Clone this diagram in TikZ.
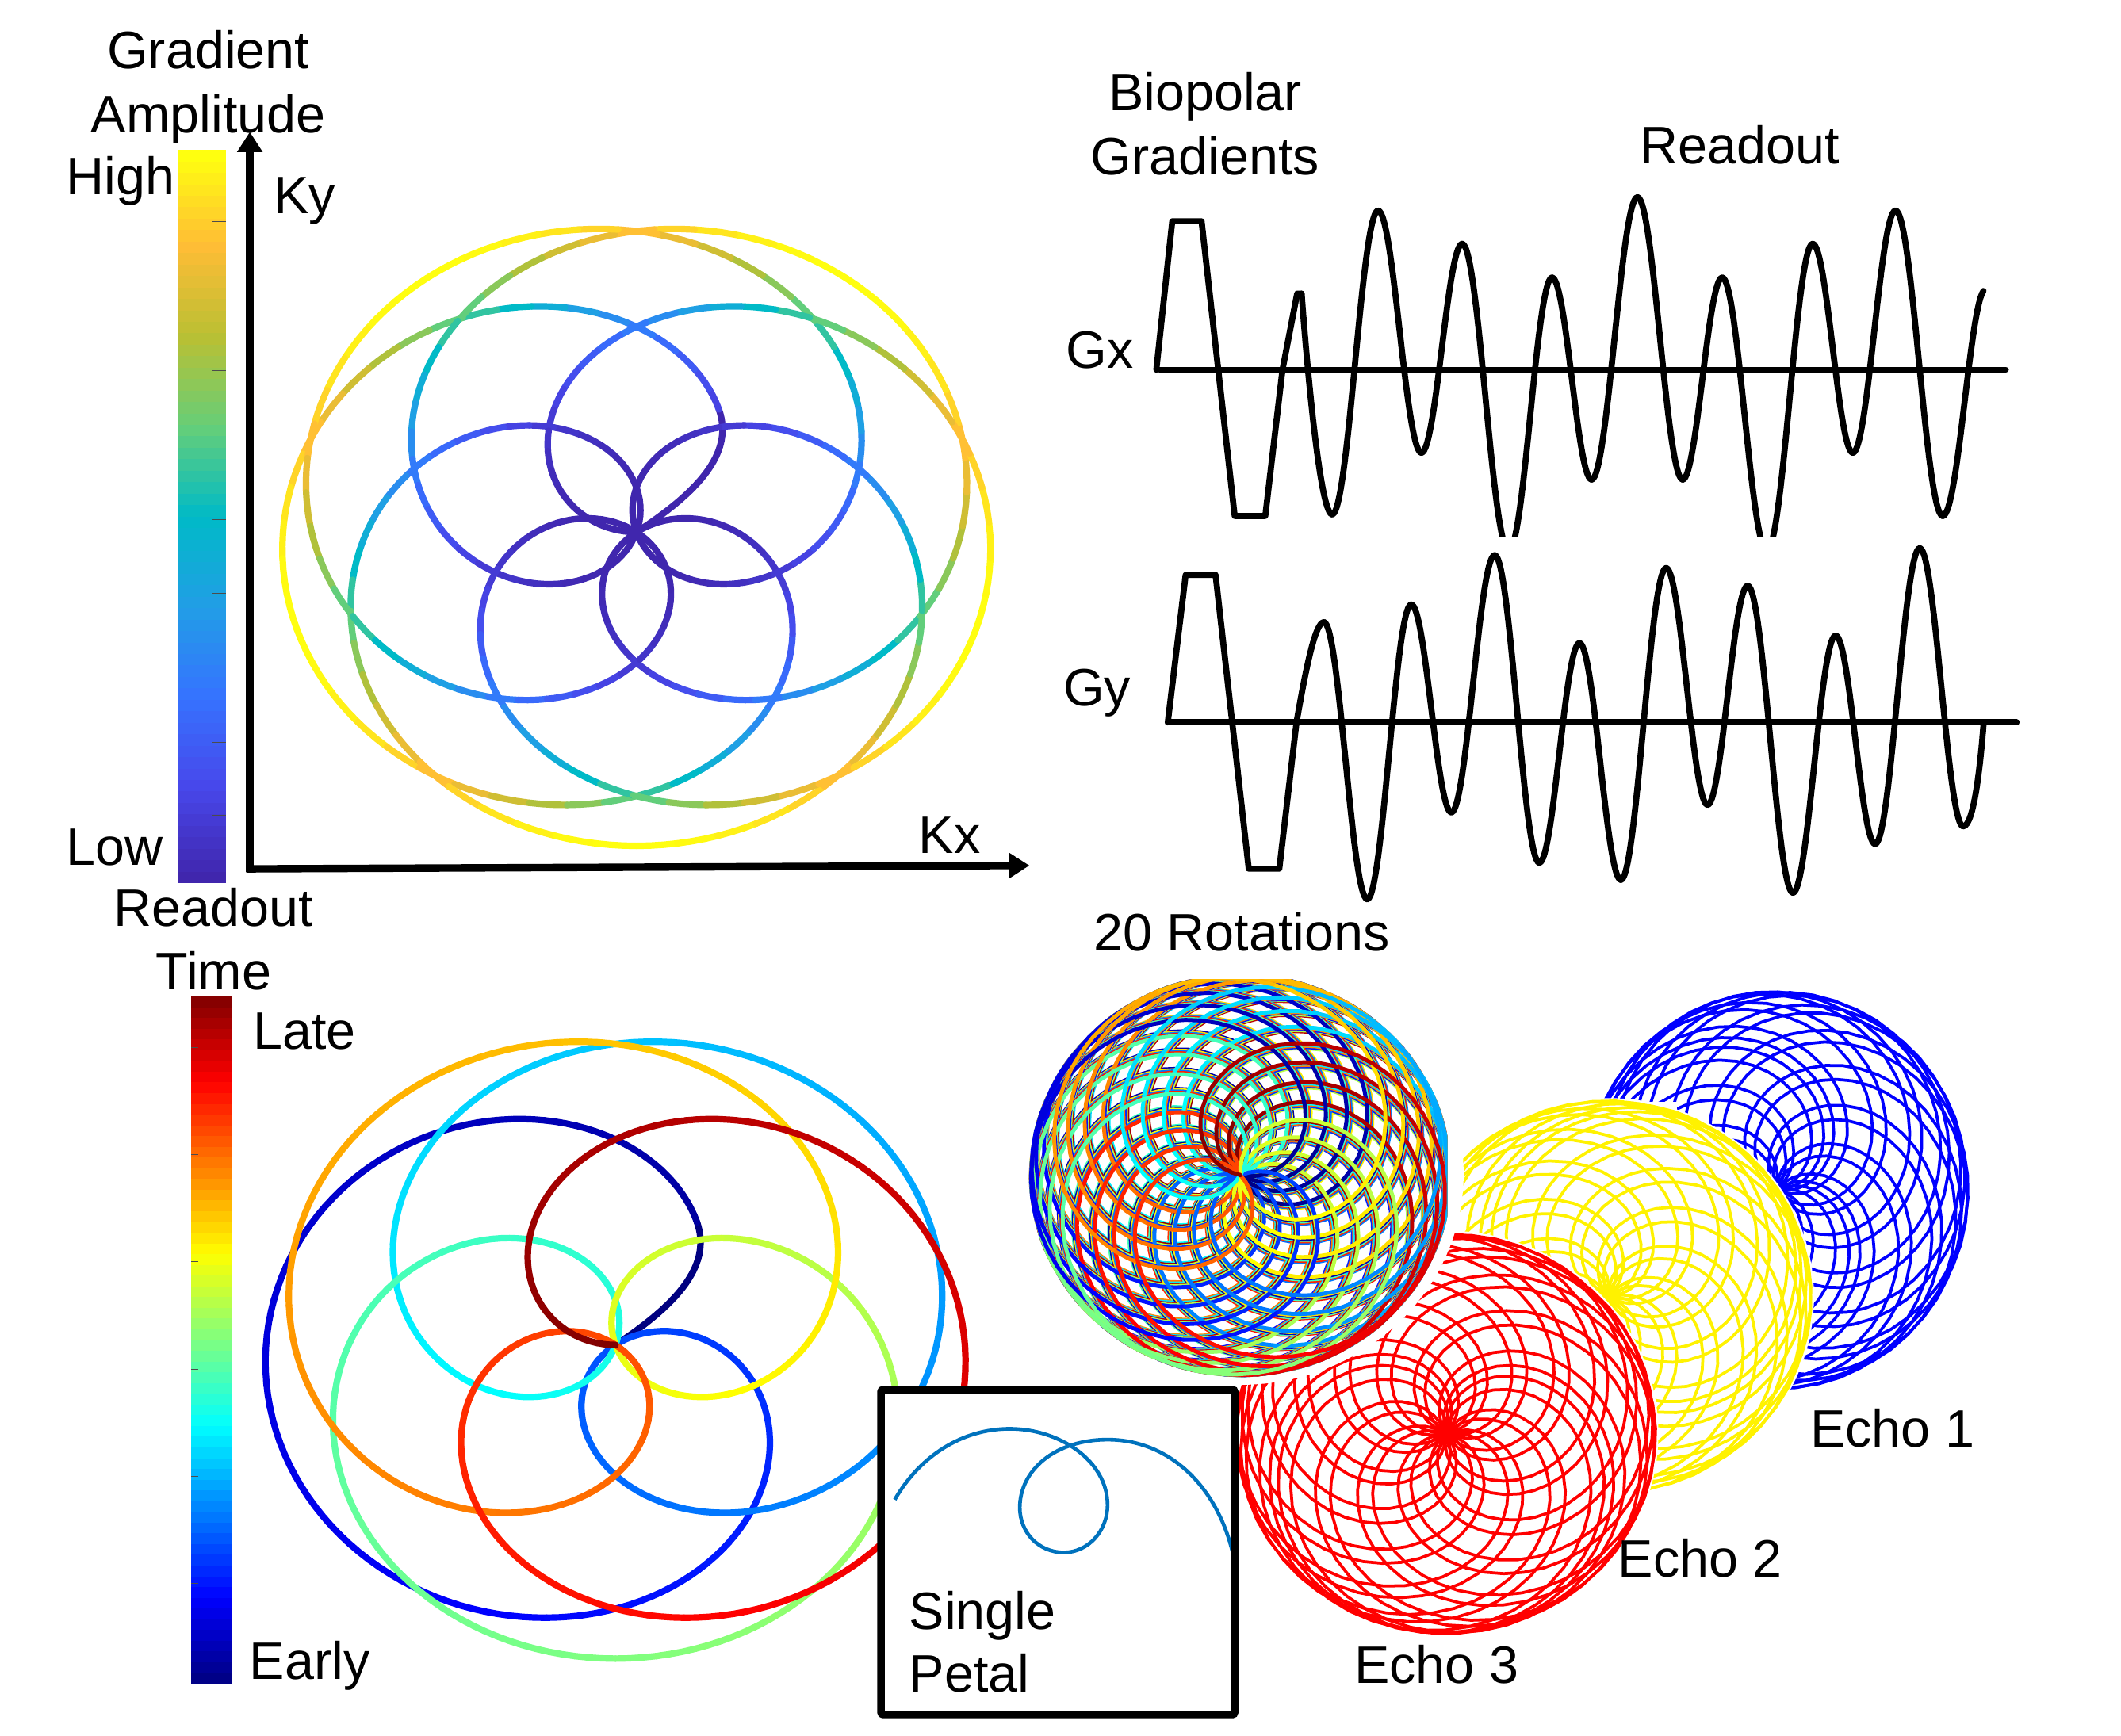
\documentclass[tikz,border=0pt]{standalone}
\usepackage{fontspec}
\setmainfont{Liberation Sans}
\usetikzlibrary{arrows.meta}
\definecolor{p0}{rgb}{.25,.15,.68}
\definecolor{p1}{rgb}{.28,.28,.92}
\definecolor{p2}{rgb}{.21,.45,1}
\definecolor{p3}{rgb}{.13,.62,.9}
\definecolor{p4}{rgb}{0,.73,.78}
\definecolor{p5}{rgb}{.40,.81,.47}
\definecolor{p6}{rgb}{.73,.75,.2}
\definecolor{p7}{rgb}{1,.74,.21}
\definecolor{p8}{rgb}{1,1,.06}
\definecolor{petalblue}{rgb}{0,.447,.741}
\newcommand\setjet[1]{%
  \pgfmathsetmacro\jr{max(0,min(1,1.5-abs(4*#1-3)))}%
  \pgfmathsetmacro\jg{max(0,min(1,1.5-abs(4*#1-2)))}%
  \pgfmathsetmacro\jb{max(0,min(1,1.5-abs(4*#1-1)))}%
  \definecolor{cc}{rgb}{\jr,\jg,\jb}}
\newcommand\setpar[1]{%
  \pgfmathtruncatemacro\pk{min(7,floor(#1*8))}%
  \pgfmathtruncatemacro\pl{\pk+1}%
  \pgfmathsetmacro\pf{max(0,min(100,(#1*8-\pk)*100))}%
  \colorlet{cc}{p\pl!\pf!p\pk}}
\newcommand\roseplot[3]{plot[domain=#1:#2,samples=#3,variable=\uu]
  ({\CX+\RX*sin(5*\uu)*cos(11*\uu+\AL)},{\CY-\RY*sin(5*\uu)*sin(11*\uu+\AL)})}
\newcommand\kink{(\CX,\CY) .. controls ({\CX+.19*\RX},{\CY-.14*\RY}) and ({\CX+.271*\RX},{\CY-.263*\RY}) .. ({\CX+.231*\RX},{\CY-.391*\RY})}
\newcommand\echoset[6]{%
  \def\CX{#1}\def\CY{#2}\def\RX{#3}\def\RY{#4}%
  \foreach \k in {0,...,19}{\def\AL{\k*37.35+#6}\draw[echopen,draw=#5]\roseplot{0}{36}{60};}}
\newcommand\wavelist[3]{%
  \foreach \xx/\yy [remember=\xx as \px (initially #1), remember=\yy as \py (initially #2)] in {#3}{%
    \draw[wavepen] (\px,\py) .. controls ({\px+.36*(\xx-\px)},\py) and ({\xx-.36*(\xx-\px)},\yy) .. (\xx,\yy);}}
\tikzset{
  lbl/.style={inner sep=0pt,anchor=base,font=\fontsize{39}{46}\selectfont},
  curve/.style={line width=4.8pt,line cap=round,line join=round},
  echopen/.style={line width=2.2pt,line cap=round,line join=round},
  rotpen/.style={line width=2.9pt,line cap=round,line join=round},
  wavepen/.style={line width=4.5pt,line cap=round,line join=round,draw=black},
  axispen/.style={line width=5.5pt,-{Triangle[length=15pt,width=18pt]}},
  barband/.style={fill=cc,draw=none},
  tickmark/.style={line width=.6pt,draw=black!70},
  mask/.style={fill=white,draw=none}
}
\begin{document}
\begin{tikzpicture}[x=1pt,y=-1pt]
\useasboundingbox[fill=white] (0,0) rectangle (1568,1283.7);
% ---------- colour bars
\foreach \i in {0,...,63}{\pgfmathsetmacro\v{\i/63}\setpar{\v}
  \pgfmathsetmacro\ya{653-\i*8.47}\pgfmathsetmacro\yb{653-(\i+1)*8.47-.4}
  \fill[barband] (132,\ya) rectangle (167,\yb);}
\foreach \y in {164,219,274,329,384,439,493,549,603}{\draw[tickmark] (156.6,\y) -- (167,\y);}
\foreach \i in {0,...,63}{\pgfmathsetmacro\v{(\i+.5)/64}\setjet{\v}
  \pgfmathsetmacro\ya{1245-\i*7.94}\pgfmathsetmacro\yb{1245-(\i+1)*7.94-.4}
  \fill[barband] (141.3,\ya) rectangle (171.2,\yb);}
\foreach \y in {774.8,853.9,933,1012.5,1091.6,1170.7}{\draw[tickmark] (141.3,\y) -- (146.3,\y);}
% ---------- axes
\coordinate (orig) at (184.7,642.5);
\coordinate (kytip) at (184.7,97.5);
\coordinate (kxtip) at (761,640);
\draw[axispen] (184.7,645) -- (kytip);
\draw[axispen] (182,642.5) -- (kxtip);
% ---------- top rosette (gradient amplitude)
\def\CX{470.5}\def\CY{393.5}\def\RX{264}\def\RY{232}\def\AL{0}
\draw[curve,draw=p0] \kink;
\foreach \i in {9,...,299}{
  \pgfmathsetmacro\ta{\i*.6}\pgfmathsetmacro\tb{(\i+1)*.6}
  \pgfmathsetmacro\rr{abs(sin(5*(\i+.5)*.6))}\pgfmathsetmacro\v{\rr*\rr*\rr}\setpar{\v}
  \draw[curve,draw=cc] \roseplot{\ta}{\tb}{4};}
% ---------- bottom rosette (readout time)
\def\CX{455}\def\CY{994.5}\def\RX{261}\def\RY{232}\def\AL{0}
\setjet{0}\colorlet{jetstart}{cc}
\draw[curve,draw=jetstart] \kink;
\foreach \i in {9,...,299}{
  \pgfmathsetmacro\ta{\i*.6}\pgfmathsetmacro\tb{(\i+1)*.6}
  \pgfmathsetmacro\v{(\i+.5)/300}\setjet{\v}
  \draw[curve,draw=cc] \roseplot{\ta}{\tb}{4};}
% ---------- waveforms
\begin{scope}[shift={(773.8,58.6)},x=.4711pt,y=-.3963pt]
  \begin{scope}
    \clip (150,150) rectangle (1480,853);
    \draw[wavepen] (172,542) -- (197,265) -- (243,265) -- (295,815) -- (343,815) -- (370,542) -- (393,400) -- (400,400);
    \draw[wavepen] (400,400) .. controls (410,560) and (430,812) .. (448,812);
    \wavelist{448}{812}{520/245,588/697,652/307,725/880,793/370,855/747,927/220,998/747,1060/370,1130/880,1202/307,1265/697,1332/245,1406/815}
    \draw[wavepen] (1406,815) .. controls (1430,815) and (1448,430) .. (1470,395);
  \end{scope}
  \draw[wavepen] (177,542) -- (1505,542);
  \draw[wavepen] (190,1200) -- (218,925) -- (265,925) -- (317,1473) -- (365,1473) -- (392,1200);
  \draw[wavepen] (392,1200) .. controls (408,1090) and (422,1013) .. (435,1013);
  \wavelist{435}{1013}{503/1530,572/980,635/1368,703/888,773/1462,836/1052,901/1494,972/912,1037/1354,1100/945,1171/1518,1238/1038,1300/1427,1370/875,1438/1394}
  \draw[wavepen] (1438,1394) .. controls (1455,1394) and (1465,1280) .. (1470,1205);
  \draw[wavepen] (190,1200) -- (1522,1200);
\end{scope}
% ---------- echoes
\echoset{1313}{880}{142}{147}{blue}{0}
\fill[mask] (1100,815) rectangle (1240,900);
\fill[mask] (1189,959) ellipse [x radius=152pt,y radius=147pt];
\echoset{1189}{959}{150}{145}{yellow}{216}
\fill[mask] (1069,1060) ellipse [x radius=157pt,y radius=150pt];
\echoset{1069}{1060}{155}{148}{red}{72}
% ---------- 20 rotations
\fill[mask] (917,868) ellipse [x radius=165pt,y radius=156pt];
\begin{scope}
  \clip (760,724) rectangle (1070,1040);
  \def\CX{917}\def\CY{869}\def\RX{155}\def\RY{148}
  \foreach \k in {0,...,19}{
    \def\AL{\k*18.3}
    \foreach \i in {0,...,59}{
      \pgfmathsetmacro\ta{\i*3}\pgfmathsetmacro\tb{(\i+1)*3}
      \pgfmathsetmacro\v{(\i+.5)/60}\setjet{\v}
      \draw[rotpen,draw=cc] \roseplot{\ta}{\tb}{7};}}
\end{scope}
% ---------- inset
\node[draw=black,fill=white,line width=5.6pt,rounded corners=1.5pt,inner sep=0pt,minimum width=261.3pt,minimum height=240.2pt] (inset) at (782,1147.7) {};
\begin{scope}[shift={(639,1020)},x=.1954pt,y=-.1954pt]
  \clip (78,54) rectangle (1386,1254);
  \draw[line width=2.7pt,draw=petalblue,line join=round] (115,455) .. controls (210,290) and (370,187) .. (550,187) .. controls (740,187) and (920,310) .. (920,475) .. controls (920,575) and (845,655) .. (755,655) .. controls (660,655) and (588,580) .. (588,485) .. controls (588,345) and (720,228) .. (920,228) .. controls (1150,228) and (1330,400) .. (1392,650);
\end{scope}
% ---------- labels
\node[lbl] (t1) at (154,51) {Gradient};
\node[lbl] (t2) at (154,98) {Amplitude};
\node[lbl] (t3) at (89,144) {High};
\node[lbl] (t4) at (225,158) {Ky};
\node[lbl] (t5) at (702,631) {Kx};
\node[lbl] (t6) at (85,640) {Low};
\node[lbl] (t7) at (158,685) {Readout};
\node[lbl] (t8) at (158,732) {Time};
\node[lbl] (t9) at (225,776) {Late};
\node[lbl] (t10) at (229,1242) {Early};
\node[lbl] (t11) at (891,82) {Biopolar};
\node[lbl] (t12) at (891,129) {Gradients};
\node[lbl] (t13) at (1286,121) {Readout};
\node[lbl] (t14) at (813,272) {Gx};
\node[lbl] (t15) at (811,522) {Gy};
\node[lbl] (t16) at (918,703) {20 Rotations};
\node[lbl,anchor=base west] (t17) at (672,1205) {Single};
\node[lbl,anchor=base west] (t18) at (672,1251) {Petal};
\node[lbl] (t19) at (1399,1070) {Echo 1};
\node[lbl] (t20) at (1257,1166) {Echo 2};
\node[lbl] (t21) at (1062,1245) {Echo 3};
\end{tikzpicture}
\end{document}
